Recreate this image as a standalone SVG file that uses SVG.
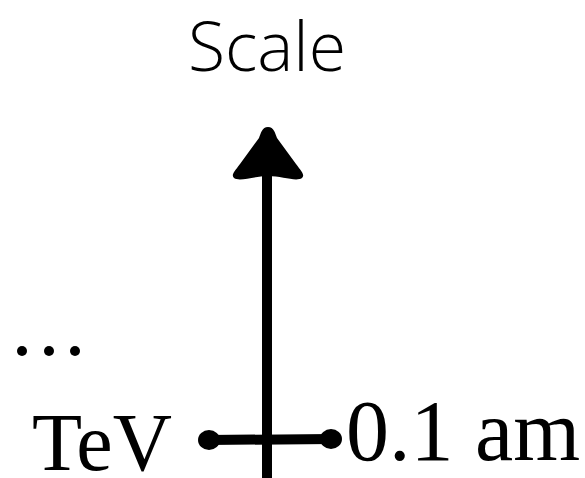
<svg xmlns="http://www.w3.org/2000/svg" width="585" height="478" viewBox="0 0 585 478">
<style>
.serif{font-family:"Liberation Serif","Times New Roman",serif;fill:#000}
.sans{font-family:"Open Sans","Lato",sans-serif;font-weight:300;font-size:68px;fill:#000}
.ink{stroke:#000;stroke-linecap:round;fill:none}
</style>
<rect width="585" height="478" fill="#fff"/>
<g id="title"><text class="sans" x="267" y="71" text-anchor="middle">Scale</text></g>
<g id="connectors">
<line class="ink" x1="267" y1="170" x2="267" y2="482" stroke-width="10"/>
<path d="M268,127 C262,127 261,133 259,138 L240,164 C234,172 231,175 234,178 C240,182 254,176 268,176 C282,176 296,182 302,178 C305,175 302,172 296,164 L277,138 C275,133 274,127 268,127 Z" fill="#000"/>
<path d="M208,440 L332,439" class="ink" stroke-width="10"/>
<ellipse cx="209" cy="440" rx="11" ry="10" fill="#000"/>
<ellipse cx="331" cy="439" rx="11" ry="10" fill="#000"/>
</g>
<g id="dots" fill="#000">
<circle cx="22" cy="351" r="5"/>
<circle cx="49" cy="351" r="5"/>
<circle cx="75" cy="351" r="5"/>
</g>
<g id="tev"><text class="serif" x="32" y="470" font-size="82">TeV</text></g>
<g id="am"><text class="serif" x="346" y="460" font-size="86">0.1 am</text></g>
</svg>
